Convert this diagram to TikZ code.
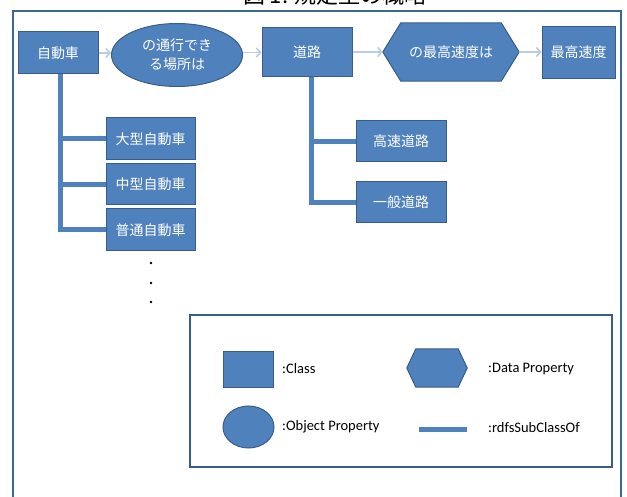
\documentclass[tikz,border=0pt]{standalone}
\usepackage{fontspec}
\setmainfont{Carlito}
\newfontfamily\jp{Noto Sans CJK JP}
\usetikzlibrary{arrows.meta,backgrounds,shapes.geometric}
\definecolor{boxblue}{HTML}{4F81BD}
\definecolor{boxedge}{HTML}{385D8A}
\definecolor{arrblue}{HTML}{B9CDE5}
\definecolor{framec}{HTML}{3A679C}
\tikzset{
  cls/.style={rectangle, fill=boxblue, draw=boxedge, line width=1pt, text=white,
    font=\jp\fontsize{14}{19}\selectfont, inner sep=0pt},
  opr/.style={ellipse, fill=boxblue, draw=boxedge, line width=1pt, text=white,
    font=\jp\fontsize{14}{19}\selectfont, inner sep=0pt, align=center},
  hexnode/.style={rectangle, inner sep=0pt, text=white, font=\jp\fontsize{14}{19}\selectfont},
  hexfill/.style={fill=boxblue, draw=boxedge, line width=1pt},
  rel/.style={draw=arrblue, line width=1.6pt, -{Straight Barb[length=4pt,width=9pt]}},
  sub/.style={draw=boxblue, line width=5pt},
  legtext/.style={anchor=west, inner sep=0pt, font=\fontsize{14.5}{16}\selectfont},
}
\begin{document}
\begin{tikzpicture}[x=1pt,y=-1pt]
\useasboundingbox (0,0) rectangle (627,497);
% title (cut off at top)
\node[anchor=base, inner sep=0pt, font=\jp\fontsize{22}{22}\selectfont] (T) at (335,4) {図 1. 規定型の概略};
% outer frame
\draw[framec, line width=2pt] (13,11) rectangle (621,530);

% top row
\node[cls, minimum width=80pt, minimum height=42pt] (A) at (58,53) {自動車};
\node[opr, minimum width=131pt, minimum height=63pt] (OP) at (177,55) {の通行でき\\る場所は};
\node[cls, minimum width=90pt, minimum height=49pt] (B) at (307,52.5) {道路};
\node[hexnode, minimum width=136pt, minimum height=58pt] (H) at (451,52) {の最高速度は};
\node[cls, minimum width=73pt, minimum height=52pt] (C) at (578.5,52.5) {最高速度};

% subclasses
\node[cls, minimum width=89pt, minimum height=42pt] (L1) at (150.5,139) {大型自動車};
\node[cls, minimum width=89pt, minimum height=41pt] (L2) at (150.5,184.5) {中型自動車};
\node[cls, minimum width=89pt, minimum height=42pt] (L3) at (150.5,230) {普通自動車};
\node[cls, minimum width=90pt, minimum height=41pt] (R1) at (401,141.5) {高速道路};
\node[cls, minimum width=90pt, minimum height=41pt] (R2) at (401,202.5) {一般道路};

\begin{scope}[on background layer]
  \path[hexfill] (H.west) -- ([xshift=18pt]H.north west) -- ([xshift=-18pt]H.north east)
     -- (H.east) -- ([xshift=-18pt]H.south east) -- ([xshift=18pt]H.south west) -- cycle;
  \draw[sub] ([xshift=2pt]A.south) |- (L1.west);
  \draw[sub] ([xshift=2pt]A.south) |- (L2.west);
  \draw[sub] ([xshift=2pt]A.south) |- (L3.west);
  \draw[sub] ([xshift=4pt]B.south) |- (R1.west);
  \draw[sub] ([xshift=4pt]B.south) |- (R2.west);
\end{scope}

% relations
\draw[rel] (A.east) -- (A.east -| OP.west);
\draw[rel] (OP.east |- B.west) -- (B.west);
\draw[rel] (B.east |- H.west) -- (H.west);
\draw[rel] (H.east) -- (H.east -| C.west);

% dots
\fill (151,263) circle (1.3pt);
\fill (151,283) circle (1.3pt);
\fill (151,302) circle (1.3pt);

% legend
\draw[boxedge, line width=1.5pt] (190,315) rectangle (612,467);
\node[cls, minimum width=50pt, minimum height=36pt] (LC) at (248,369) {};
\node[legtext] (LCt) at (282,369) {:Class};
\node[hexnode, minimum width=60pt, minimum height=38pt] (LH) at (437,368) {};
\begin{scope}[on background layer]
  \path[hexfill] (LH.west) -- ([xshift=9pt]LH.north west) -- ([xshift=-9pt]LH.north east)
     -- (LH.east) -- ([xshift=-9pt]LH.south east) -- ([xshift=9pt]LH.south west) -- cycle;
\end{scope}
\node[legtext] (LHt) at (488,369) {:Data Property};
\node[opr, minimum width=51pt, minimum height=42pt] (LO) at (248.5,427) {};
\node[legtext] (LOt) at (282,427) {:Object Property};
\coordinate (LS1) at (419,429);
\coordinate (LS2) at (467,429);
\draw[sub] (LS1) -- (LS2);
\node[legtext] (LSt) at (488,428) {:rdfsSubClassOf};
\end{tikzpicture}
\end{document}
